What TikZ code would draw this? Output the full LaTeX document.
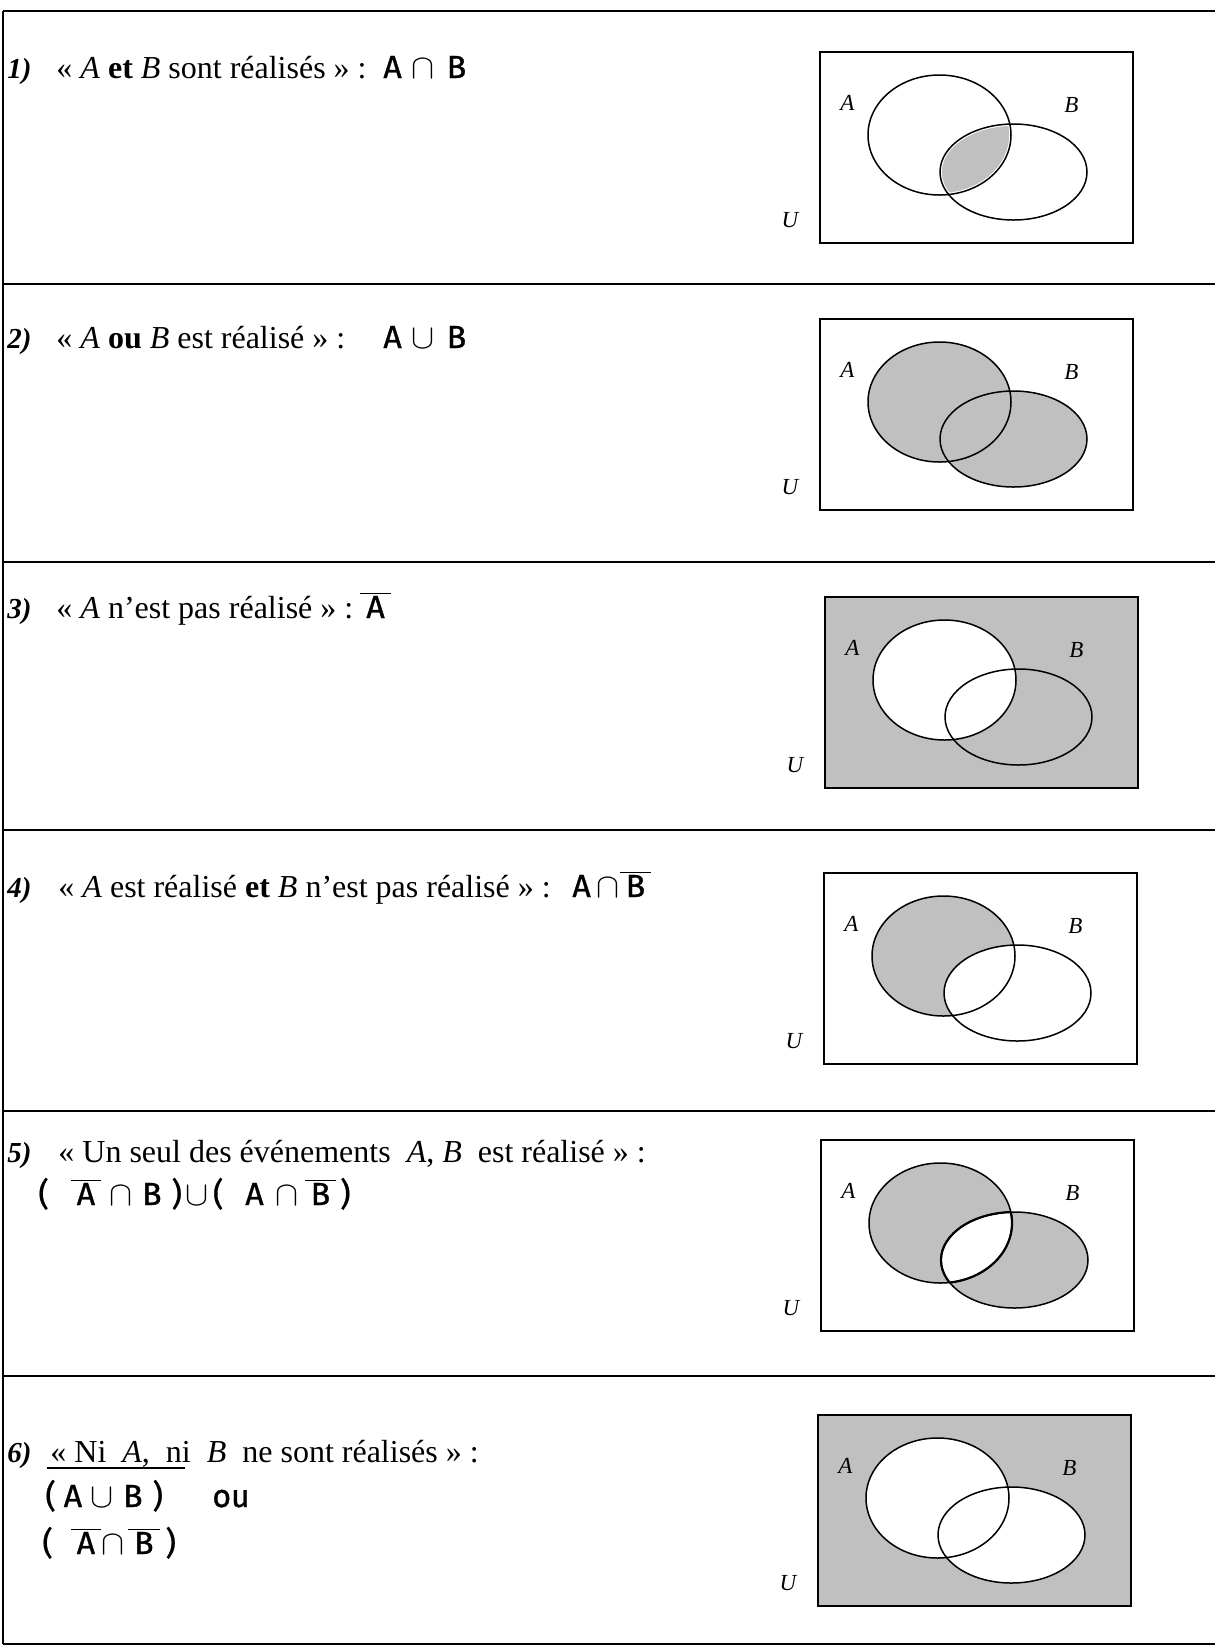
\documentclass[tikz,border=0pt]{standalone}
\usepackage{fontspec}
\setmainfont{Liberation Serif}
\newfontfamily\formfont[FakeBold=1]{Fira Sans}

\definecolor{shadegray}{RGB}{192,192,192}

% overline drawn a bit wider than the letter
\newcommand\barre[1]{\setbox0\hbox{#1}\dimen0=\wd0 \hbox to\dimen0{\hss\vbox{\hrule width\dimexpr\dimen0+6pt\relax height0.7pt\kern0.8pt\hbox to\dimexpr\dimen0+6pt\relax{\hss\box0\hss}}\hss}}

% the two sets, in the frame of one diagram
\newcommand\ellA{(119.5,83) ellipse [x radius=71.5, y radius=60]}
\newcommand\ellB{(193.5,120) ellipse [x radius=73.5, y radius=48]}

\newcommand\venngrid[1]{%
  \draw[box] (0,0) rectangle (313,191);
  \draw[setline] \ellA;
  \draw[setline] \ellB;
  \node[lab] (labA#1) at (27.5,51) {A};
  \node[lab] (labB#1) at (251.5,53) {B};
  \node[lab] (labU#1) at (-30,168) {U};
}

\tikzset{
  frame/.style={line width=1pt},
  box/.style={line width=0.9pt},
  setline/.style={line width=0.75pt},
  shaded/.style={fill=shadegray},
  lab/.style={inner sep=0pt, font=\fontsize{11.5pt}{13pt}\selectfont\itshape},
  num/.style={anchor=base west, inner sep=0pt, font=\fontsize{14.5pt}{17pt}\selectfont\bfseries\itshape},
  txt/.style={anchor=base west, inner sep=0pt, font=\fontsize{16pt}{19pt}\selectfont},
  fml/.style={anchor=base west, inner sep=0pt, font=\fontsize{16pt}{19pt}\selectfont\formfont},
}

\begin{document}
\begin{tikzpicture}[x=0.5pt, y=-0.5pt]
\useasboundingbox (0,0) rectangle (1215,1646);

% table lines
\draw[frame] (3,11) -- (3,1644);
\foreach \yy in {11,284,562,830,1111,1376,1644}
  \draw[frame] (3,\yy) -- (1215,\yy);

% 1) intersection
\node[num] (num1) at (7,78) {1)};
\node[txt] (txt1) at (56,78) {« \textit{A} \textbf{et} \textit{B} sont réalisés » :};
\node[fml] (fml1) at (383,78) {A\hspace{5pt}$\cap$\hspace{6pt}B};
\begin{scope}[shift={(820,52)}]
  \begin{scope}
    \clip \ellA;
    \fill[shaded] \ellB;
    \draw[white, line width=1.8pt] \ellB;
  \end{scope}
  \begin{scope}
    \clip \ellB;
    \draw[white, line width=1.8pt] \ellA;
  \end{scope}
  \venngrid{1}
\end{scope}

% 2) union
\node[num] (num2) at (7,348) {2)};
\node[txt] (txt2) at (56,348) {« \textit{A} \textbf{ou} \textit{B} est réalisé » :};
\node[fml] (fml2) at (383,348) {A\hspace{5pt}$\cup$\hspace{6pt}B};
\begin{scope}[shift={(820,319)}]
  \fill[shaded] \ellA;
  \fill[shaded] \ellB;
  \venngrid{2}
\end{scope}

% 3) complement of A
\node[num] (num3) at (7,618) {3)};
\node[txt] (txt3) at (56,618) {« \textit{A} n’est pas réalisé » :};
\node[fml] (fml3) at (366,618) {\barre{A}};
\begin{scope}[shift={(825,597)}]
  \fill[shaded] (0,0) rectangle (313,191);
  \fill[white] \ellA;
  \venngrid{3}
\end{scope}

% 4) A and not B
\node[num] (num4) at (7,897) {4)};
\node[txt] (txt4) at (58,897) {« \textit{A} est réalisé \textbf{et} \textit{B} n’est pas réalisé » :};
\node[fml] (fml4) at (572,897) {A\hspace{3pt}$\cap$\hspace{3pt}\barre{B}};
\begin{scope}[shift={(824,873)}]
  \fill[shaded] \ellA;
  \fill[white] \ellB;
  \venngrid{4}
\end{scope}

% 5) exactly one
\node[num] (num5) at (7,1162) {5)};
\node[txt] (txt5) at (58,1162) {« Un seul des événements\ \ \textit{A}, \textit{B}\ \ est réalisé » :};
\node[fml] (fml5) at (38,1205) {(\hspace{14pt}\barre{A}\hspace{7pt}$\cap$\hspace{5pt}B\hspace{5pt})\hspace{2pt}$\cup$\hspace{2pt}(\hspace{11pt}A\hspace{6pt}$\cap$\hspace{6pt}\barre{B}\hspace{5pt})};
\begin{scope}[shift={(821,1140)}]
  \fill[shaded] \ellA;
  \fill[shaded] \ellB;
  \begin{scope}
    \clip \ellA;
    \fill[white] \ellB;
    \draw[line width=1.1pt] \ellB;
  \end{scope}
  \begin{scope}
    \clip \ellB;
    \draw[line width=1.1pt] \ellA;
  \end{scope}
  \venngrid{5}
\end{scope}

% 6) neither
\node[num] (num6) at (7,1462) {6)};
\node[txt] (txt6) at (50,1462) {« Ni\ \ \textit{A},\ \ ni\ \ \textit{B}\ \ ne sont réalisés » :};
\node[fml] (fml6a) at (45,1507) {(\hspace{4pt}A\hspace{4pt}$\cup$\hspace{5pt}B\hspace{5pt})};
\node[fml] (fml6b) at (212,1507) {ou};
\node[fml] (fml6c) at (42,1554) {(\hspace{12pt}\barre{A}\hspace{3pt}$\cap$\hspace{5pt}\barre{B}\hspace{6pt})};
\draw[line width=0.7pt] (47,1468) -- (185,1468);
\begin{scope}[shift={(818,1415)}]
  \fill[shaded] (0,0) rectangle (313,191);
  \fill[white] \ellA;
  \fill[white] \ellB;
  \venngrid{6}
\end{scope}
\end{tikzpicture}
\end{document}
